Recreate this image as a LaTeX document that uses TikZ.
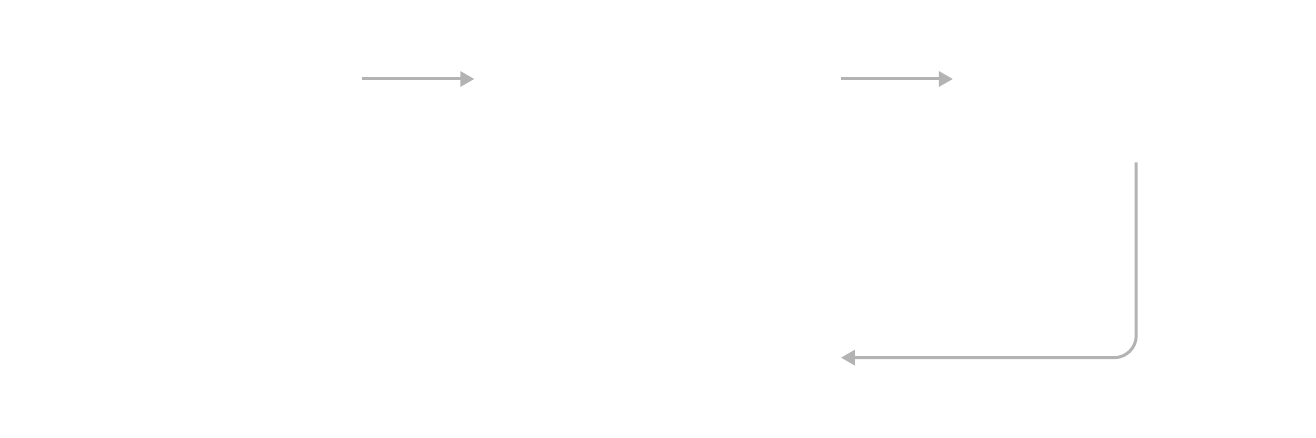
\documentclass[tikz,border=0pt]{standalone}
\usepackage{tikz}
\usetikzlibrary{arrows.meta,positioning}
\definecolor{linkgray}{HTML}{B3B3B3}

\begin{document}
\begin{tikzpicture}[
    x=0.02cm, y=-0.02cm,
    stage/.style={rectangle, draw=none, fill=none, minimum width=7.32cm, minimum height=3.32cm, inner sep=0pt},
    link/.style={-{Triangle[length=0.28cm, width=0.3cm]}, draw=linkgray, line width=0.06cm},
    node distance=2.24cm
]
    % Fix the page size
    \useasboundingbox (0,0) rectangle (1316,438);

    % Create nodes with relative positioning
    \node[stage] (first) at (179,79) {};
    \node[stage, right=of first] (second) {};
    \node[stage, right=of second] (third) {};
    \node[stage, below=of second] (fourth) {};

    % Connect nodes with arrows
    \draw[link] (first) -- (second);
    \draw[link] (second) -- (third);
    \draw[link, rounded corners=0.44cm] (third.south) |- (fourth.east);
\end{tikzpicture}
\end{document}
